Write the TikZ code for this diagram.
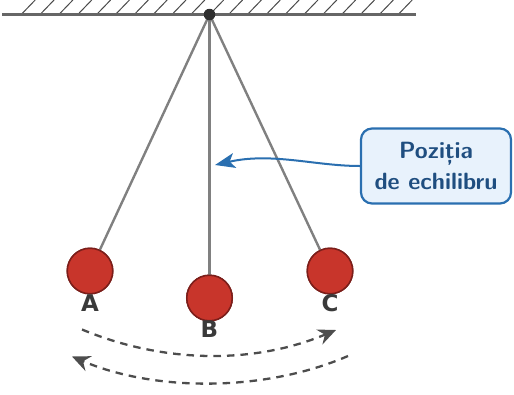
\documentclass[tikz,border=0pt]{standalone}
\usepackage{fontspec}
\setsansfont{Latin Modern Sans}
\newfontfamily\labelfont{DejaVu Sans}
\usetikzlibrary{arrows.meta}
\definecolor{groundgray}{HTML}{666666}
\definecolor{rodgray}{HTML}{808080}
\definecolor{hatchgray}{HTML}{4A4A4A}
\definecolor{pivotdark}{HTML}{2E2E2E}
\definecolor{bobred}{HTML}{C8352B}
\definecolor{bobedge}{HTML}{7B1E1A}
\definecolor{inkdark}{HTML}{3A3A3A}
\definecolor{swinggray}{HTML}{4D4D4D}
\definecolor{notefill}{HTML}{E8F2FC}
\definecolor{noteedge}{HTML}{2A6FB0}
\definecolor{notetext}{HTML}{1F4E80}
\tikzset{
  bob/.style={circle,draw=bobedge,line width=1.5pt,fill=bobred,minimum size=45.5pt,inner sep=0pt},
  rod/.style={draw=rodgray,line width=2.4pt},
  bobname/.style={font=\labelfont\bfseries\fontsize{23}{24}\selectfont,text=inkdark,inner sep=0pt},
  swing/.style={draw=swinggray,line width=2.3pt,dash pattern=on 7.5pt off 6pt,
    -{Stealth[length=18pt,width=16pt,inset=6pt,fill=swinggray]}},
  note/.style={draw=noteedge,line width=2.2pt,fill=notefill,rounded corners=11pt,
    minimum width=150pt,minimum height=75pt,align=center,text=notetext,
    font=\sffamily\bfseries\fontsize{23.5}{31}\selectfont},
}
\begin{document}
\begin{tikzpicture}[x=1pt,y=-1pt]
  \useasboundingbox (0,0) rectangle (514,394);
  % ceiling with hatching
  \coordinate (wallL) at (2,14.5);
  \coordinate (wallR) at (416,14.5);
  \foreach \i in {0,...,20}
    \draw[hatchgray,line width=1pt] ({21.7+18.85*\i},14) -- ++(13.5,-14);
  \draw[groundgray,line width=3pt] (wallL) -- (wallR);
  % bobs and their rods
  \node[bob] (A) at (90,271) {};
  \node[bob] (B) at (209.5,298) {};
  \node[bob] (C) at (330,271) {};
  \coordinate (P) at (209.5,14.5);
  \draw[rod] (P) -- (A);
  \draw[rod,line width=3pt] (P) -- (B);
  \draw[rod] (P) -- (C);
  \node[bob] at (A) {};
  \node[bob] at (B) {};
  \node[bob] at (C) {};
  \node[circle,fill=pivotdark,minimum size=11.5pt,inner sep=0pt] (pivot) at (P) {};
  % bob names
  \node[bobname] (nameA) at (90,303.5) {A};
  \node[bobname] (nameB) at (209.5,329.5) {B};
  \node[bobname] (nameC) at (330,303.5) {C};
  % direction of the swing
  \coordinate (s1) at (82,329.5);
  \coordinate (s2) at (336,330);
  \coordinate (s3) at (348,356);
  \coordinate (s4) at (72,356.5);
  \draw[swing] (s1) .. controls (165,364) and (255,364) .. (s2);
  \draw[swing] (s3) .. controls (265,392) and (155,392) .. (s4);
  % equilibrium note
  \node[note] (note) at (436,166) {Poziția\\de echilibru};
  \coordinate (tip) at (215,165);
  \draw[noteedge,line width=2pt,-{Stealth[length=20pt,width=15pt,inset=5pt]}]
    (note.west |- 0,166) .. controls (315,166) and (272,152) .. (tip);
\end{tikzpicture}
\end{document}
